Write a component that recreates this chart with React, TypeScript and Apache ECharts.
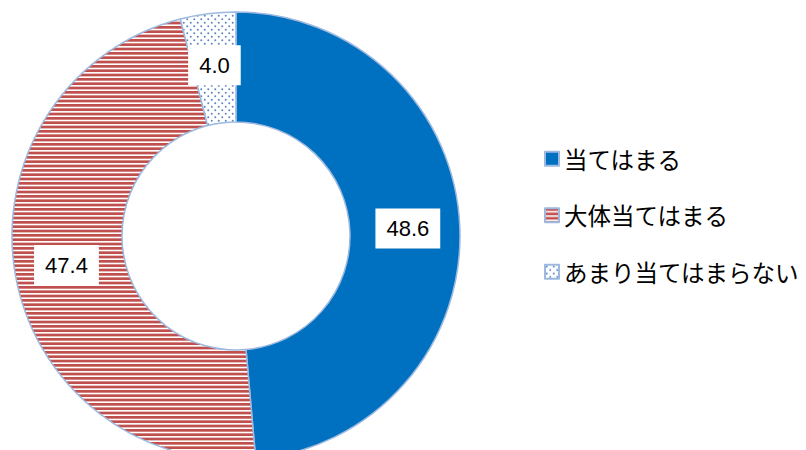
import React, { useEffect, useRef } from "react";
import * as echarts from "echarts";

const categories = ["当てはまる", "大体当てはまる", "あまり当てはまらない"];
const values = [48.6, 47.4, 4.0];

function stripeTile(): string {
  const c = document.createElement("canvas");
  c.width = 4;
  c.height = 13;
  const g = c.getContext("2d")!;
  g.fillStyle = "#ffffff";
  g.fillRect(0, 0, 4, 13);
  g.fillStyle = "#C0504D";
  for (let k = 0; k < 3; k++) g.fillRect(0, k * (13 / 3), 4, 2.7);
  return c.toDataURL();
}

function dotTile(): string {
  const c = document.createElement("canvas");
  c.width = 7;
  c.height = 7;
  const g = c.getContext("2d")!;
  g.fillStyle = "#ffffff";
  g.fillRect(0, 0, 7, 7);
  g.fillStyle = "#5B86C5";
  g.beginPath();
  g.arc(1.75, 1.75, 1, 0, Math.PI * 2);
  g.fill();
  g.beginPath();
  g.arc(5.25, 5.25, 1, 0, Math.PI * 2);
  g.fill();
  return c.toDataURL();
}

export default function App() {
  const ref = useRef<HTMLDivElement>(null);
  useEffect(() => {
    document.body.style.margin = "0";
    const chart = echarts.init(ref.current!, null, { renderer: "svg" });
    const colors: any[] = [
      "#0070C0",
      { image: stripeTile(), repeat: "repeat" },
      { image: dotTile(), repeat: "repeat" },
    ];
    chart.setOption({
      animation: false,
      backgroundColor: "#ffffff",
      legend: {
        orient: "vertical",
        left: 539,
        top: 142,
        itemWidth: 14,
        itemHeight: 14,
        itemGap: 33,
        icon: "rect",
        data: categories,
        textStyle: {
          fontSize: 23.5,
          color: "#000",
          fontFamily: "Noto Sans CJK JP",
        },
      },
      series: [
        {
          type: "pie",
          center: [236, 236],
          radius: [114, 224],
          startAngle: 90,
          clockwise: true,
          silent: true,
          itemStyle: { borderColor: "#9DB9E0", borderWidth: 1.5 },
          label: {
            show: true,
            position: "inside",
            formatter: (p: any) => p.value.toFixed(1),
            backgroundColor: "#ffffff",
            color: "#000",
            fontSize: 22,
            fontFamily: "Liberation Sans",
            padding: [9, 11, 9, 11],
            lineHeight: 22,
          },
          labelLine: { show: false },
          data: categories.map((name, i) => ({
            name,
            value: values[i],
            itemStyle: { color: colors[i] },
          })),
        },
      ],
    });
    return () => chart.dispose();
  }, []);
  return <div ref={ref} style={{ width: 806, height: 450 }} />;
}
